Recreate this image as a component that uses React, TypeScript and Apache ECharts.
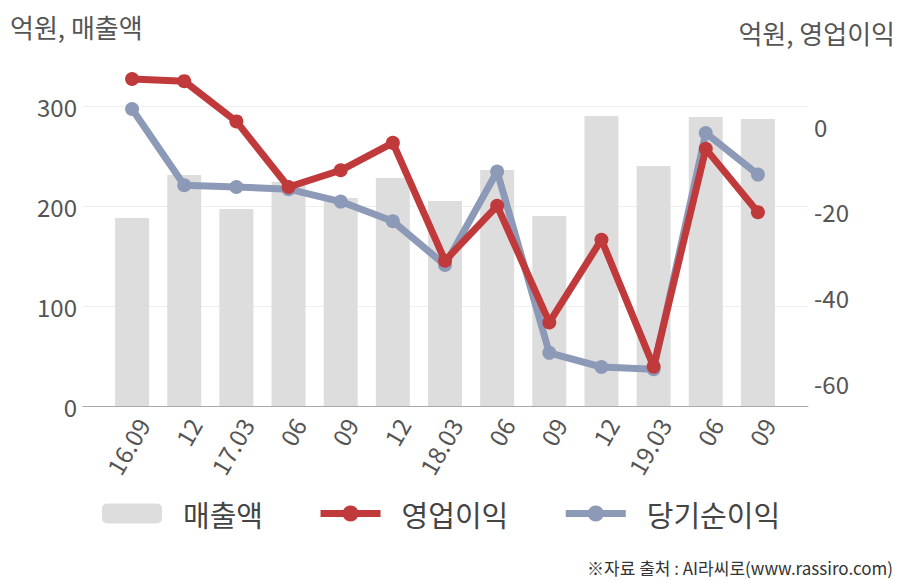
import React, { useEffect, useRef } from "react";
import * as echarts from "echarts";

const categories = ["16.09", "12", "17.03", "06", "09", "12", "18.03", "06", "09", "12", "19.03", "06", "09"];
const salesValues = [188, 231, 197, 224, 208, 228, 205, 236, 190, 290, 240, 289, 287];
const opProfitValues = [11.0, 10.5, 1.1, -14.2, -10.3, -3.9, -31.4, -18.6, -45.8, -26.5, -56.1, -5.3, -20.1];
const netIncomeValues = [4.0, -13.8, -14.2, -14.7, -17.6, -22.2, -32.4, -10.6, -52.9, -56.2, -56.7, -1.6, -11.3];
const leftTicks = [0, 100, 200, 300];
const rightTicks = [-60, -40, -20, 0];

const FONT = "'Noto Sans CJK KR', 'Noto Sans', sans-serif";
const RED = "#c0393b";
const BLUE = "#8d9ab7";
const BAR = "#dddddd";

export default function App() {
  const ref = useRef<HTMLDivElement>(null);
  useEffect(() => {
    if (!ref.current) return;
    const chart = echarts.init(ref.current, undefined, { renderer: "svg" });
    const leftMax = 330;
    const rightMin = -65.3;
    const rightMax = 11.7;
    const option: any = {
      animation: false,
      textStyle: { fontFamily: FONT },
      title: [
        { text: "억원, 매출액", left: 10, top: 13, padding: 0, textStyle: { fontFamily: FONT, fontSize: 26, fontWeight: "normal", color: "#555" } },
        { text: "억원, 영업이익", right: 13, top: 19, padding: 0, textStyle: { fontFamily: FONT, fontSize: 26, fontWeight: "normal", color: "#555" } },
        { text: "※자료 출처 : AI라씨로(www.rassiro.com)", right: 15, bottom: 4, padding: 0, textStyle: { fontFamily: FONT, fontSize: 17, fontWeight: "normal", color: "#333" } },
      ],
      legend: {
        left: 102,
        top: 499,
        padding: 0,
        itemWidth: 60,
        itemHeight: 20,
        itemGap: 54,
        data: ["매출액", "영업이익", "당기순이익"],
        lineStyle: { width: 7 },
        textStyle: { fontFamily: FONT, fontSize: 29, color: "#444", padding: [0, 0, 0, 16] },
      },
      grid: [
        { left: 83, right: 100, top: 76, bottom: 174 },
        { left: 106, right: 124, top: 76, bottom: 174 },
      ],
      xAxis: [
        {
          type: "category",
          gridIndex: 0,
          data: categories,
          axisLine: { show: true, lineStyle: { color: "#aaaaaa", width: 1 } },
          axisTick: { show: false },
          axisLabel: { show: false },
          splitLine: { show: false },
        },
        {
          type: "category",
          gridIndex: 1,
          data: categories,
          axisLine: { show: false },
          axisTick: { show: false },
          axisLabel: { rotate: 60, margin: 8, fontSize: 24, color: "#555", fontFamily: FONT, interval: 0, verticalAlign: "top" },
        },
      ],
      yAxis: [
        {
          type: "value",
          gridIndex: 0,
          position: "left",
          min: 0,
          max: leftMax,
          interval: 100,
          axisLine: { show: false },
          axisTick: { show: false },
          axisLabel: {
            margin: 6,
            fontSize: 24,
            color: "#555",
            fontFamily: FONT,
            formatter: (v: number) => (leftTicks.some((t) => Math.abs(t - v) < 1e-6) ? String(v) : ""),
          },
          splitLine: { show: true, showMaxLine: false, lineStyle: { color: "#eeeeee", width: 1 } },
        },
        {
          type: "value",
          gridIndex: 0,
          position: "right",
          min: rightMin,
          max: rightMax,
          splitNumber: 4,
          axisLine: { show: false },
          axisTick: { show: false },
          axisLabel: {
            margin: 6,
            fontSize: 24,
            color: "#555",
            fontFamily: FONT,
            formatter: (v: number) => {
              const t = rightTicks.find((x) => Math.abs(x - v) < 1e-6);
              return t === undefined ? "" : String(t);
            },
          },
          splitLine: { show: false },
        },
        { type: "value", gridIndex: 1, min: 0, max: leftMax, interval: 100, show: false, splitLine: { show: false } },
        { type: "value", gridIndex: 1, min: rightMin, max: rightMax, show: false, splitLine: { show: false } },
      ],
      series: [
        {
          name: "매출액",
          type: "bar",
          xAxisIndex: 1,
          yAxisIndex: 2,
          data: salesValues,
          barWidth: 34,
          itemStyle: { color: BAR },
        },
        {
          name: "당기순이익",
          type: "line",
          xAxisIndex: 1,
          yAxisIndex: 3,
          data: netIncomeValues,
          symbol: "circle",
          symbolSize: 14,
          lineStyle: { color: BLUE, width: 7 },
          itemStyle: { color: BLUE },
          z: 3,
        },
        {
          name: "영업이익",
          type: "line",
          xAxisIndex: 1,
          yAxisIndex: 3,
          data: opProfitValues,
          symbol: "circle",
          symbolSize: 14,
          lineStyle: { color: RED, width: 7 },
          itemStyle: { color: RED },
          z: 4,
        },
      ],
    };
    chart.setOption(option);
    return () => chart.dispose();
  }, []);
  return <div ref={ref} style={{ position: "absolute", left: 0, top: 0, width: 908, height: 580 }} />;
}
